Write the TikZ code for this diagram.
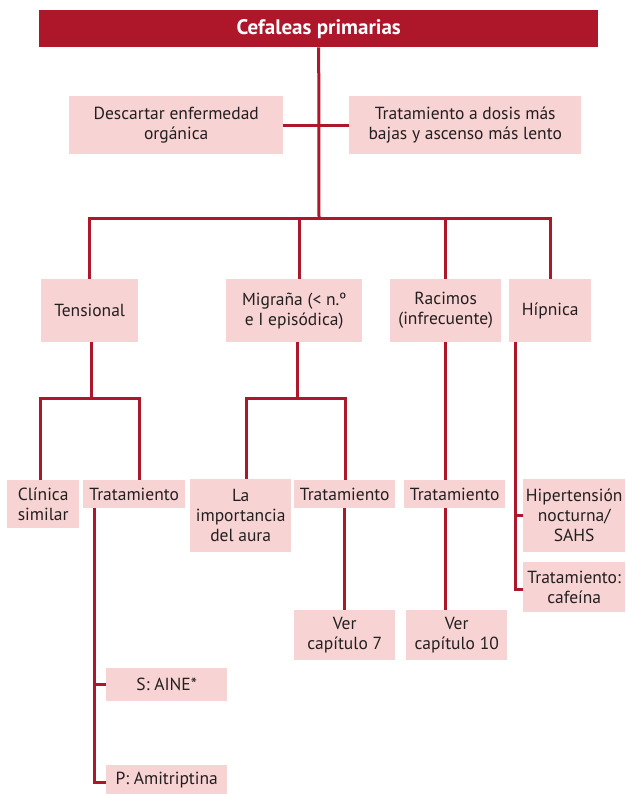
\documentclass[tikz,border=0pt]{standalone}
\usepackage{fontspec}
\setmainfont{PT Sans}
\definecolor{dred}{HTML}{AD1729}
\definecolor{pinkf}{HTML}{F8D3D3}
\definecolor{txt}{HTML}{231F20}
\begin{document}
\begin{tikzpicture}[x=1pt,y=-1pt,
  box/.style={fill=pinkf,draw=none,inner sep=0pt,align=center,text=txt,anchor=north west,
    font=\fontsize{17.5}{20}\selectfont},
  titlebox/.style={fill=dred,draw=none,inner sep=0pt,align=center,text=white,anchor=north west,
    font=\fontsize{21}{24}\selectfont\bfseries},
  conn/.style={draw=dred,line width=3pt,line join=miter}]
\useasboundingbox (0,0) rectangle (625,794);
% nodes
\node[titlebox,minimum width=559pt,minimum height=37pt] (title) at (39,10) {Cefaleas primarias};
\node[box,minimum width=214pt,minimum height=58pt] (desc) at (69,96) {Descartar enfermedad\\orgánica};
\node[box,minimum width=232pt,minimum height=58pt] (dosis) at (349,96) {Tratamiento a dosis más\\bajas y ascenso más lento};
\node[box,minimum width=97pt,minimum height=63pt] (tens) at (41,279) {Tensional};
\node[box,minimum width=136pt,minimum height=63pt] (mig) at (226,279) {Migraña (< n.º\\e I episódica)};
\node[box,minimum width=111pt,minimum height=63pt] (rac) at (390,279) {Racimos\\(infrecuente)};
\node[box,minimum width=82pt,minimum height=63pt] (hip) at (509,279) {Hípnica};
\node[box,minimum width=72pt,minimum height=48pt] (clin) at (7,480) {Clínica\\similar};
\node[box,minimum width=102pt,minimum height=28pt] (tratT) at (83,480) {Tratamiento};
\node[box,minimum width=101pt,minimum height=73pt] (aura) at (190,479) {La\\importancia\\del aura};
\node[box,minimum width=101pt,minimum height=28pt] (tratM) at (294,480) {Tratamiento};
\node[box,minimum width=101pt,minimum height=28pt] (tratR) at (404,480) {Tratamiento};
\node[box,minimum width=102pt,minimum height=73pt] (hipert) at (523,479) {Hipertensión\\nocturna/\\SAHS};
\node[box,minimum width=102pt,minimum height=50pt] (cafe) at (523,562) {Tratamiento:\\cafeína};
\node[box,minimum width=101pt,minimum height=50pt] (ver7) at (294,610) {Ver\\capítulo 7};
\node[box,minimum width=101pt,minimum height=50pt] (ver10) at (406,610) {Ver\\capítulo 10};
\node[box,minimum width=121pt,minimum height=33pt] (aine) at (106,668) {S: AINE*};
\node[box,minimum width=121pt,minimum height=29pt] (amit) at (106,765) {P: Amitriptina};
% helper coordinates
\coordinate (bus) at (319,219);
\coordinate (mtop) at (299,219);
\coordinate (tj) at (91,398);
\coordinate (tjL) at (40,398);
\coordinate (tjR) at (139.5,398);
\coordinate (tv) at (94,508);
\coordinate (mj) at (297,398);
\coordinate (mjL) at (246,398);
\coordinate (mjR) at (345,398);
\coordinate (hv) at (515,342);
% connectors
\draw[conn] (title.south) -- (bus);
\draw[conn] (desc.east) -- (dosis.west);
\draw[conn] (tens.north) |- (bus) -| (hip.north);
\draw[conn] (mtop) -- (mtop |- mig.north);
\draw[conn] (rac.north |- bus) -- (rac.north);
\draw[conn] (tj |- tens.south) -- (tj);
\draw[conn] (tjL |- clin.north) -- (tjL) -- (tjR) -- (tjR |- tratT.north);
\draw[conn] (tv |- tratT.south) |- ([yshift=-2.5pt]amit.west);
\draw[conn] (tv |- aine.west) -- (aine.west);
\draw[conn] (mj |- mig.south) -- (mj);
\draw[conn] (mjL |- aura.north) -- (mjL) -- (mjR) -- (mjR |- tratM.north);
\draw[conn] (tratM.south) -- (ver7.north);
\draw[conn] (rac.south) -- (rac.south |- tratR.north);
\draw[conn] (rac.south |- tratR.south) -- (rac.south |- ver10.north);
\draw[conn] (hv |- hip.south) |- ([yshift=-2pt]cafe.west);
\draw[conn] (hv |- hipert.west) -- (hipert.west);
\end{tikzpicture}
\end{document}
